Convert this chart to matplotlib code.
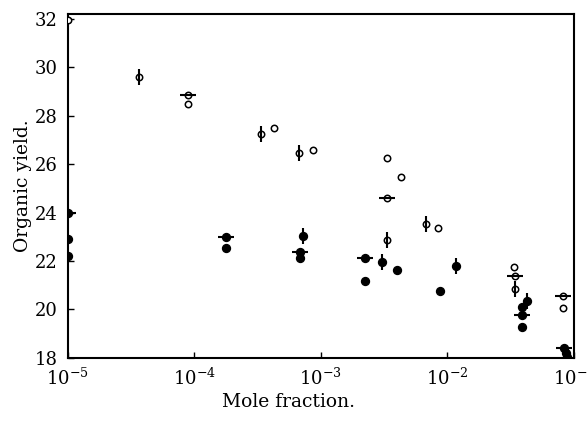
import matplotlib.pyplot as plt

plt.rcParams.update({
    "font.family": "serif",
    "font.serif": ["DejaVu Serif"],
    "mathtext.fontset": "dejavuserif",
})

# open circles
open_x = [1e-5, 8.9e-5, 4.3e-4, 8.73e-4, 3.32e-3, 4.28e-3, 8.41e-3, 3.34e-2, 8.2e-2]
open_y = [31.95, 28.46, 27.49, 26.57, 26.25, 25.48, 23.37, 21.75, 20.07]
# open circles with vertical stroke
open_v_x = [3.66e-5, 3.38e-4, 6.78e-4, 3.32e-3, 6.73e-3, 3.4e-2]
open_v_y = [29.59, 27.25, 26.46, 22.88, 23.53, 20.83]
# open circles with horizontal stroke
open_h_x = [8.9e-5, 3.32e-3, 3.4e-2, 8.26e-2]
open_h_y = [28.86, 24.59, 21.36, 20.57]
# filled circles
fill_x = [1e-5, 1e-5, 1.77e-4, 6.9e-4, 2.24e-3, 4.03e-3, 8.73e-3, 3.88e-2, 3.9e-2, 8.6e-2, 8.8e-2]
fill_y = [22.91, 22.2, 22.52, 22.14, 21.16, 21.64, 20.77, 20.1, 19.27, 18.2, 18.05]
# filled circles with vertical stroke
fill_v_x = [7.27e-4, 3.07e-3, 1.17e-2, 4.3e-2]
fill_v_y = [23.01, 21.95, 21.81, 20.33]
# filled circles with horizontal stroke
fill_h_x = [1e-5, 1.77e-4, 6.9e-4, 2.24e-3, 3.9e-2, 8.3e-2]
fill_h_y = [24.0, 22.97, 22.39, 22.12, 19.75, 18.42]

x_ticks = [1e-5, 1e-4, 1e-3, 1e-2, 1e-1]
x_labels = [r"$10^{-5}$", r"$10^{-4}$", r"$10^{-3}$", r"$10^{-2}$", r"$10^{-1}$"]
y_ticks = [18, 20, 22, 24, 26, 28, 30, 32]

fig = plt.figure(figsize=(5.88, 4.21), dpi=100)
ax = fig.add_axes([0.115, 0.150, 0.861, 0.817])


def pts(xs, ys, filled, stroke=None):
    fc = "black" if filled else "white"
    ms = 5.6 if filled else 4.6
    ax.plot(xs, ys, ls="none", marker="o", ms=ms, mfc=fc, mec="black", mew=1.1, zorder=3)
    if stroke:
        ax.plot(xs, ys, ls="none", marker=stroke, ms=11, mec="black", mew=1.5, zorder=4)


pts(open_x, open_y, False)
pts(open_v_x, open_v_y, False, "|")
pts(open_h_x, open_h_y, False, "_")
pts(fill_x, fill_y, True)
pts(fill_v_x, fill_v_y, True, "|")
pts(fill_h_x, fill_h_y, True, "_")

ax.set_xscale("log")
ax.set_xlim(1e-5, 1e-1)
ax.set_ylim(18, 32.2)
ax.set_xticks(x_ticks)
ax.set_xticklabels(x_labels)
ax.minorticks_off()
ax.set_yticks(y_ticks)
ax.tick_params(direction="in", length=4, width=1, labelsize=13, pad=7)
for s in ax.spines.values():
    s.set_linewidth(1.5)

ax.set_xlabel("Mole fraction.", fontsize=13.5)
ax.xaxis.set_label_coords(0.437, -0.103)
ax.set_ylabel("Organic yield.", fontsize=13.5, labelpad=2)

fig.savefig("out.png", dpi=100)
